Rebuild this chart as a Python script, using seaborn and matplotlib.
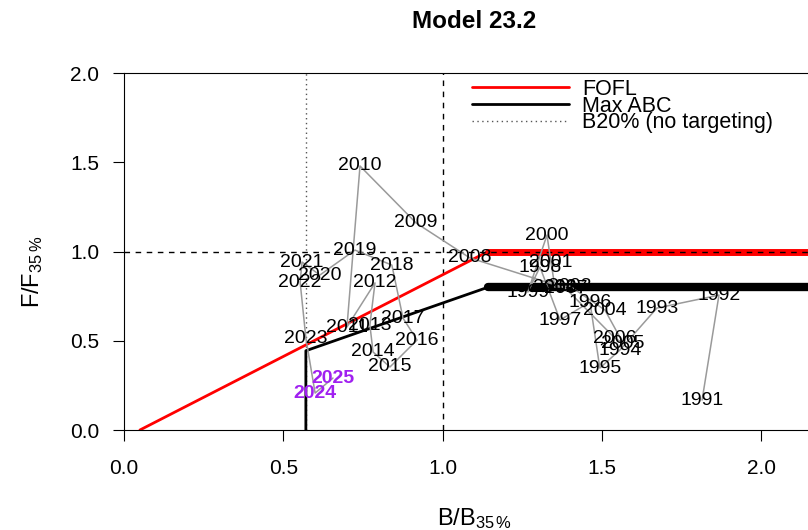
import numpy as np
import pandas as pd
import matplotlib
matplotlib.use("Agg")
import matplotlib.pyplot as plt
from matplotlib.lines import Line2D
import seaborn as sns

# ---- data ----
years = list(range(1991, 2026))
b_ratio = [1.815, 1.868, 1.673, 1.557, 1.494, 1.463, 1.369, 1.306, 1.268, 1.328,
           1.341, 1.353, 1.400, 1.510, 1.567, 1.541, 1.386, 1.086, 0.917, 0.741,
           0.700, 0.788, 0.772, 0.782, 0.835, 0.920, 0.876, 0.841, 0.725, 0.615,
           0.559, 0.553, 0.571, 0.600, 0.656]
f_ratio = [0.168, 0.756, 0.683, 0.448, 0.347, 0.717, 0.616, 0.913, 0.773, 1.092,
           0.936, 0.800, 0.806, 0.672, 0.487, 0.515, 0.795, 0.964, 1.160, 1.479,
           0.577, 0.824, 0.588, 0.437, 0.353, 0.504, 0.627, 0.924, 1.008, 0.868,
           0.941, 0.829, 0.515, 0.207, 0.291]
projected_years = [2024, 2025]

ofl_b = [0.05, 1.143, 2.2]
ofl_f = [0.0, 1.0, 1.0]
abc_b = [0.571, 0.571, 1.143, 2.2]
abc_f = [0.0, 0.444, 0.80, 0.80]
b20 = 0.571

x_ticks = [0.0, 0.5, 1.0, 1.5, 2.0]
y_ticks = [0.0, 0.5, 1.0, 1.5, 2.0]
legend_labels = ["FOFL", "Max ABC", "B20% (no targeting)"]
title = "Model 23.2"

# ---- style ----
sns.set_style("ticks")
plt.rcParams["font.family"] = ["Liberation Sans", "DejaVu Sans"]
plt.rcParams["mathtext.fontset"] = "custom"
plt.rcParams["mathtext.rm"] = "Liberation Sans"
plt.rcParams["mathtext.it"] = "Liberation Sans"
plt.rcParams["mathtext.default"] = "regular"
plt.rcParams["text.color"] = "black"
plt.rcParams["axes.labelcolor"] = "black"
plt.rcParams["xtick.color"] = "black"
plt.rcParams["ytick.color"] = "black"
plt.rcParams["axes.edgecolor"] = "black"

fig = plt.figure(figsize=(8.08, 5.30), dpi=100)
W, H = 808, 530
ax_left, ax_right, ax_top, ax_bottom = 124, 824.7, 73, 430
ax_w, ax_h = ax_right - ax_left, ax_bottom - ax_top
ax = fig.add_axes([ax_left / W, (H - ax_bottom) / H, ax_w / W, ax_h / H])

df = pd.DataFrame({"year": years, "B": b_ratio, "F": f_ratio})
ofl_df = pd.DataFrame({"B": ofl_b, "F": ofl_f})
abc_df = pd.DataFrame({"B": abc_b, "F": abc_f})

# reference lines
ax.axvline(b20, color="#555555", lw=1.0, ls=(0, (1, 2.5)), zorder=1)
ax.axvline(1.0, color="black", lw=1.0, ls=(0, (4, 4)), zorder=1)

# harvest control rules
sns.lineplot(data=ofl_df, x="B", y="F", sort=False, estimator=None,
             color="#ff0000", lw=2.0, ax=ax, zorder=2)
sns.lineplot(data=ofl_df.iloc[1:], x="B", y="F", sort=False, estimator=None,
             color="#ff0000", lw=5.0, ax=ax, zorder=2)
sns.lineplot(data=abc_df, x="B", y="F", sort=False, estimator=None,
             color="black", lw=2.0, ax=ax, zorder=2)
sns.lineplot(data=abc_df.iloc[2:], x="B", y="F", sort=False, estimator=None,
             color="black", lw=6.0, ax=ax, zorder=2)
ax.axhline(1.0, color="black", lw=1.0, ls=(0, (4, 4)), zorder=3)

# trajectory
sns.lineplot(data=df, x="B", y="F", sort=False, estimator=None,
             color="#9a9a9a", lw=1.1, ax=ax, zorder=4)
for yr, b, f in zip(years, b_ratio, f_ratio):
    if yr in projected_years:
        ax.text(b, f, str(yr), ha="center", va="center", fontsize=14,
                color="#A020F0", fontweight="bold", zorder=6)
    else:
        ax.text(b, f, str(yr), ha="center", va="center", fontsize=14,
                color="black", zorder=5)

# axes
ax.set_xlim(0, 2.2)
ax.set_ylim(0, 2.0)
ax.set_xticks(x_ticks)
ax.set_yticks(y_ticks)
ax.set_xticklabels([f"{v:.1f}" for v in x_ticks])
ax.set_yticklabels([f"{v:.1f}" for v in y_ticks])
ax.tick_params(axis="both", direction="out", length=8, width=0.8,
               labelsize=15, color="black", labelcolor="black")
ax.tick_params(axis="x", pad=13)
ax.tick_params(axis="y", pad=10)
for s in ["left", "top", "bottom", "right"]:
    ax.spines[s].set_linewidth(0.8)
    ax.spines[s].set_color("black")

ax.set_xlabel(r"B/B$_{35\,\%}$", fontsize=17, color="black")
ax.set_ylabel(r"F/F$_{35\,\%}$", fontsize=17, color="black")
ax.xaxis.label.set_va("center")
ax.yaxis.label.set_va("center")
ax.xaxis.set_label_coords((475 - ax_left) / ax_w, (ax_bottom - 519) / ax_h)
ax.yaxis.set_label_coords((33 - ax_left) / ax_w, (ax_bottom - 272) / ax_h)

ax.set_title(title, fontsize=17.5, fontweight="bold", color="black",
             x=(474 - ax_left) / ax_w, y=(ax_bottom - 21) / ax_h,
             va="center", ha="center", pad=0)

handles = [Line2D([], [], color="#ff0000", lw=2.0),
           Line2D([], [], color="black", lw=2.0),
           Line2D([], [], color="#555555", lw=1.0, ls=(0, (1, 2.5)))]
leg = ax.legend(handles, legend_labels, loc="upper left",
                bbox_to_anchor=((472 - ax_left) / ax_w, (ax_bottom - 79) / ax_h),
                frameon=False, fontsize=15.5, handlelength=4.5,
                handletextpad=0.6, labelspacing=-0.2, borderpad=0.0,
                borderaxespad=0.0)
for t in leg.get_texts():
    t.set_color("black")

fig.savefig("out.png", dpi=100)
